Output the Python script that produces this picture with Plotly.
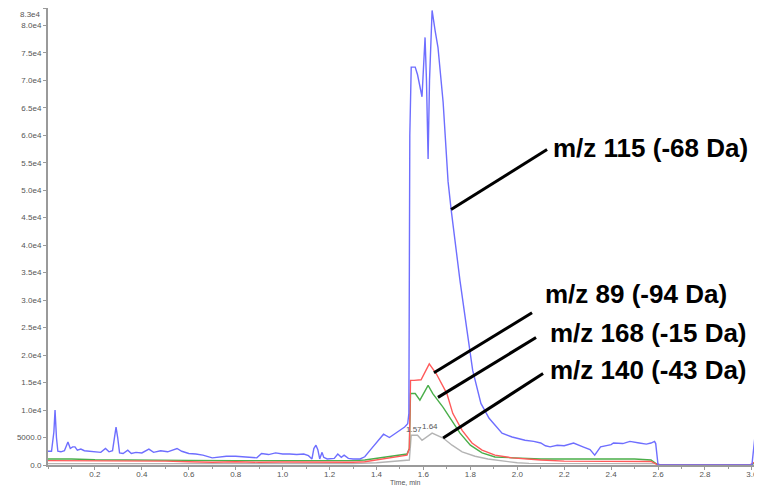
import plotly.graph_objects as go

# ---- data (time in min, intensity in cps) ----
blue_t = [0.000, 0.015, 0.025, 0.030, 0.036, 0.042, 0.055, 0.070, 0.085, 0.095, 0.105, 0.115, 0.125, 0.140,
          0.155, 0.175, 0.200, 0.225, 0.245, 0.260, 0.275, 0.283, 0.290, 0.297, 0.305, 0.320, 0.340, 0.355,
          0.375, 0.400, 0.430, 0.450, 0.480, 0.510, 0.550, 0.570, 0.600, 0.630, 0.660, 0.700, 0.730, 0.760,
          0.800, 0.850, 0.890, 0.910, 0.940, 0.970, 1.000, 1.030, 1.060, 1.090, 1.110, 1.125, 1.133, 1.142,
          1.150, 1.158, 1.168, 1.175, 1.190, 1.220, 1.235, 1.250, 1.262, 1.280, 1.300, 1.330, 1.350, 1.375,
          1.400, 1.430, 1.455, 1.475, 1.500, 1.520, 1.533, 1.538, 1.542, 1.548, 1.565, 1.575, 1.594, 1.607,
          1.613, 1.620, 1.626, 1.637, 1.650, 1.662, 1.684, 1.705, 1.718, 1.740, 1.756, 1.786, 1.810, 1.845,
          1.880, 1.935, 1.978, 2.033, 2.070, 2.100, 2.120, 2.140, 2.170, 2.200, 2.240, 2.280, 2.310, 2.330,
          2.355, 2.400, 2.410, 2.450, 2.480, 2.520, 2.550, 2.570, 2.585, 2.590, 2.595, 2.600, 2.800, 3.000,
          3.015, 3.030]
blue_i = [2500, 2500, 6000, 10000, 5000, 2500, 2400, 2600, 4200, 3000, 3300, 3300, 2700, 2900,
          2600, 2500, 2400, 2300, 3000, 2400, 2600, 5500, 6900, 5000, 2200, 2100, 2700, 2100,
          2300, 2200, 2900, 2300, 2600, 2400, 3000, 2500, 2100, 2000, 1800, 1300, 1500, 1600,
          1600, 1500, 1300, 2100, 1900, 2200, 2000, 2000, 1900, 2000, 1700, 1100, 3000, 3600,
          2800, 1100, 2300, 1400, 1100, 1200, 2000, 1400, 1800, 1200, 1100, 1100, 1500, 2800,
          4000, 5600, 5000, 5600, 6300, 6900, 7500, 9400, 60000, 72400, 72400, 71000, 67000, 77800,
          70000, 55700, 70000, 82700, 79000, 76000, 66000, 51600, 46500, 39000, 33500, 24400, 17200, 11200,
          8500, 5800, 5100, 4500, 4300, 4000, 3500, 3300, 3600, 3500, 4000, 3300, 2800, 1800,
          3300, 3700, 4000, 3900, 4300, 4000, 3800, 4000, 4300, 3900, 2000, 0, 0, 0,
          6000, 7000]

red_t = [0.0, 0.1, 0.2, 0.3, 0.5, 0.6, 0.7, 0.8, 0.9, 1.0, 1.1, 1.2, 1.3, 1.35, 1.4, 1.45, 1.50, 1.53,
         1.540, 1.545, 1.560, 1.590, 1.625, 1.655, 1.700, 1.725, 1.765, 1.807, 1.850, 1.905, 1.978, 2.033,
         2.1, 2.2, 2.3, 2.4, 2.5, 2.57, 2.60, 2.99, 3.01]
red_i = [800, 800, 700, 750, 700, 600, 500, 600, 500, 550, 500, 450, 500, 600, 900, 1200, 1500, 1800,
         3000, 15400, 15400, 15500, 18400, 16600, 13000, 9400, 6300, 4000, 2700, 1800, 1300, 1100,
         900, 700, 700, 650, 700, 650, 0, 0, 500]

green_t = [0.0, 0.1, 0.2, 0.4, 0.6, 0.8, 1.0, 1.2, 1.3, 1.35, 1.40, 1.45, 1.50, 1.53, 1.540, 1.545,
           1.565, 1.585, 1.620, 1.640, 1.684, 1.722, 1.756, 1.800, 1.850, 1.905, 1.970, 2.050, 2.100,
           2.300, 2.500, 2.570, 2.600, 3.000, 3.010]
green_i = [1100, 1100, 950, 950, 850, 800, 800, 750, 800, 900, 1200, 1500, 1800, 2000, 3000, 13000,
           13000, 11800, 14500, 13000, 10500, 8100, 5800, 3600, 2200, 1450, 1300, 1200, 1100,
           1100, 1100, 900, 0, 0, 400]

gray_t = [0.0, 0.5, 1.0, 1.3, 1.4, 1.5, 1.540, 1.548, 1.575, 1.594, 1.637, 1.684, 1.722, 1.765, 1.820,
          1.875, 1.935, 2.000, 2.050, 2.600, 2.610, 3.000]
gray_i = [250, 250, 250, 250, 400, 700, 900, 5400, 5400, 4500, 5800, 4900, 3600, 2400, 1600,
          1100, 700, 400, 300, 250, 0, 0]

peak_labels = ["1.57", "1.64"]
peak_label_t = [1.560, 1.628]
peak_label_i = [6500, 7060]

series_names = ["m/z 115 (-68 Da)", "m/z 89 (-94 Da)", "m/z 168 (-15 Da)", "m/z 140 (-43 Da)"]
# callout: (point t, point i) -> (end t, end i), text position
callout_pt_t = [1.718, 1.645, 1.662, 1.684]
callout_pt_i = [46500, 16800, 12300, 4900]
callout_end_t = [2.127, 2.063, 2.080, 2.110]
callout_end_i = [57400, 27700, 23200, 16650]
label_t = [2.145, 2.110, 2.132, 2.132]
label_i = [57600, 31100, 24100, 17200]

y_tickvals = [0, 5000, 10000, 15000, 20000, 25000, 30000, 35000, 40000, 45000, 50000, 55000,
              60000, 65000, 70000, 75000, 80000, 83000]
y_ticktext = ["0.0", "5000.0", "1.0e4", "1.5e4", "2.0e4", "2.5e4", "3.0e4", "3.5e4", "4.0e4", "4.5e4",
              "5.0e4", "5.5e4", "6.0e4", "6.5e4", "7.0e4", "7.5e4", "8.0e4", ""]
y_top_label = "8.3e4"
y_top_value = 83000
x_tickvals = [0.2, 0.4, 0.6, 0.8, 1.0, 1.2, 1.4, 1.6, 1.8, 2.0, 2.2, 2.4, 2.6, 2.8, 3.0]
x_ticktext = ["0.2", "0.4", "0.6", "0.8", "1.0", "1.2", "1.4", "1.6", "1.8", "2.0", "2.2", "2.4",
              "2.6", "2.8", "3.0"]

fig = go.Figure()
fig.add_trace(go.Scatter(x=gray_t, y=gray_i, mode="lines", line=dict(color="#b4b4b4", width=1.4),
                         name=series_names[3]))
fig.add_trace(go.Scatter(x=green_t, y=green_i, mode="lines", line=dict(color="#4aae4a", width=1.4),
                         name=series_names[2]))
fig.add_trace(go.Scatter(x=red_t, y=red_i, mode="lines", line=dict(color="#ff5a5a", width=1.4),
                         name=series_names[1]))
fig.add_trace(go.Scatter(x=blue_t, y=blue_i, mode="lines", line=dict(color="#6e6eff", width=1.4),
                         name=series_names[0]))

for i in range(4):
    fig.add_shape(type="line", xref="x", yref="y", x0=callout_pt_t[i], y0=callout_pt_i[i],
                  x1=callout_end_t[i], y1=callout_end_i[i], line=dict(color="black", width=3))
    fig.add_annotation(x=label_t[i], y=label_i[i], xref="x", yref="y", text="<b>%s</b>" % series_names[i],
                       showarrow=False, xanchor="left", yanchor="middle",
                       font=dict(family="Liberation Sans, Arial", size=26, color="black"))

for i in range(2):
    fig.add_annotation(x=peak_label_t[i], y=peak_label_i[i], xref="x", yref="y", text=peak_labels[i],
                       showarrow=False, xanchor="center", yanchor="middle",
                       font=dict(family="Liberation Sans, Arial", size=8, color="#555555"))

# top y label (plotly drops it at the figure edge), kept just inside the visible area
fig.add_annotation(x=0, y=y_top_value, xref="paper", yref="y", xshift=-5, yshift=1, text=y_top_label,
                   showarrow=False, xanchor="right", yanchor="top",
                   font=dict(family="Liberation Sans, Arial", size=8, color="#555555"))

fig.add_annotation(x=0.5, y=0, xref="paper", yref="paper", yshift=-12, text="Time, min",
                   showarrow=False, xanchor="center", yanchor="top",
                   font=dict(family="Liberation Sans, Arial", size=7, color="#555555"))

# page body has an 8px default margin: size the figure to fit the visible window
fig.update_layout(
    width=754, height=478,
    margin=dict(l=40, r=0, t=0, b=21),
    paper_bgcolor="white", plot_bgcolor="white",
    showlegend=False,
    xaxis=dict(range=[0, 3.043], tickvals=x_tickvals, ticktext=x_ticktext, showgrid=False, zeroline=False,
               showline=True, linecolor="#9a9a9a", linewidth=2, ticks="outside", ticklen=3,
               tickcolor="#9a9a9a", ticklabelstandoff=-3,
               tickfont=dict(family="Liberation Sans, Arial", size=8, color="#555555"),
               minor=dict(dtick=0.1, tick0=0, ticks="outside", ticklen=2, tickcolor="#9a9a9a")),
    yaxis=dict(range=[0, 83150], tickvals=y_tickvals, ticktext=y_ticktext, showgrid=False, zeroline=False,
               showline=True, linecolor="#9a9a9a", linewidth=2, ticks="outside", ticklen=3,
               tickcolor="#9a9a9a", tickfont=dict(family="Liberation Sans, Arial", size=8, color="#555555")),
)

fig.write_html("out.html")
